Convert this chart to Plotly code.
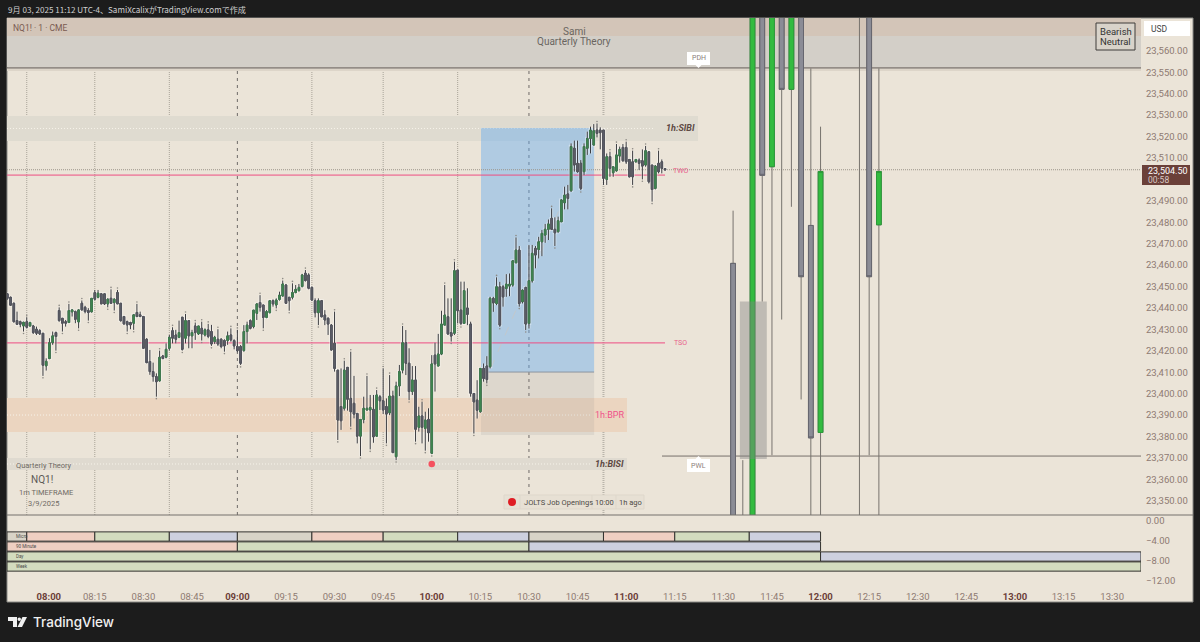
import plotly.graph_objects as go

# ---------- 1-minute candles, 07:49 - 11:12 ----------
first_minute = 469
opens = [23446.6,23445,23442.2,23434.1,23433.6,23431.6,23433.6,23431.6,23431.6,23430.1,23429.4,23428.2,23413,23416.4,23423.8,23428.5,23438.8,23435.2,23433.6,23433.2,23438.2,23438.3,23433.5,23442.2,23440.3,23438.8,23438.2,23447.2,23445,23446.6,23446.6,23441.9,23444.5,23442.5,23447.2,23442.2,23436,23433.6,23433.2,23432.9,23437.9,23436.8,23436,23425.4,23415,23410.3,23408,23406,23417.6,23417,23421.2,23429.4,23427.4,23426.3,23435.7,23425.9,23434.1,23427,23431.6,23427.9,23430.5,23427.4,23429.8,23429,23424.3,23425.4,23425.4,23424.8,23424.8,23427.4,23424.8,23422,
23422,23420.1,23429,23434.1,23431.3,23437.5,23442.5,23441.4,23435.6,23437.8,23443.4,23441.4,23444,23445.6,23450.7,23445,23445,23447.2,23448.1,23450,23456.2,23455.4,23449.6,23443.4,23437.8,23443.4,23436.7,23435.2,23432,23423.5,23411,23394,23393.2,23412.3,23397.8,23395.5,23390.8,23380.2,23388,23392.4,23392.4,23392.7,23380.2,23398.6,23396.7,23394,23391.1,23398.9,23370.6,23403.6,23411,23423.8,23414.2,23401,23406.4,23384.3,23389.6,23383.8,23388,23372.2,23418,23412.9,23418.5,23432,23435.9,23428.5,23428.2,23457.7,23439,23432.8,23440,23432.5,
23400.1,23397,23391.6,23411.8,23412.9,23412.6,23444.5,23442.1,23449.9,23449.9,23449.1,23450.2,23450.7,23461.1,23467,23442.9,23449.6,23432.8,23452.7,23467.8,23467.3,23470.9,23474,23476.7,23481.8,23476.7,23475.6,23480.2,23489.1,23493.2,23494.7,23514.5,23507.5,23507.5,23503.6,23514.5,23519.1,23516,23523,23523,23523,23500,23510.6,23503.1,23504,23510.9,23514.9,23514.9,23509.3,23508.2,23508.2,23509,23508.7,23506.7,23512.9,23506.7,23495.8,23507.5,23508.2,23505]
highs = [23446.9,23445.3,23442.5,23438.3,23434.1,23433.6,23435.7,23433.6,23432.1,23431.3,23430.1,23428.2,23416.5,23425.9,23429,23429,23440.3,23435.2,23434.4,23441.9,23439.4,23438.8,23439.4,23443.5,23441,23439.9,23444.5,23448.4,23448.4,23446.9,23446.6,23444.5,23448.7,23444.5,23448.4,23442.2,23436.3,23434.1,23433.6,23437.2,23441.9,23438.3,23436.3,23425.9,23420.4,23414.5,23409.5,23420.1,23418.1,23423.5,23427.4,23431,23429.8,23434.1,23435.7,23437.2,23434.1,23429.8,23433.2,23431.6,23433.6,23430.5,23432.6,23432.1,23427,23430.1,23425.9,23425.4,23429,23430.5,23425.4,23429.8,
23422.7,23432,23433.6,23434.7,23439,23442.2,23446,23441.4,23439,23443.7,23444,23444.5,23447.6,23452.8,23451.2,23445,23451.5,23450.7,23451.2,23455.9,23457.7,23456.2,23450,23444.5,23444.5,23443.7,23439,23435.6,23432.5,23438.3,23411,23411.8,23415.4,23412.3,23419.6,23408.3,23390.8,23388,23398.6,23408.3,23399.4,23399.4,23401.7,23399.4,23411.8,23397.8,23408.7,23401.4,23405.6,23413.4,23431.6,23429.7,23421.2,23412.9,23412.9,23393.9,23396.3,23391.6,23393.2,23418,23423.8,23427.9,23438.7,23450.7,23444.5,23444.5,23461.6,23457.7,23452.3,23452.3,23449.2,23433.6,
23400.1,23406.3,23411.8,23414.1,23417.5,23445.2,23445.2,23454.3,23452.2,23450.7,23455.8,23456.1,23462.3,23472.9,23468.9,23448.7,23449.9,23469.4,23469.4,23468.9,23473.2,23476.4,23479.2,23481.3,23486.5,23482.3,23482.6,23490.7,23496.6,23497.4,23516.8,23518.1,23518.1,23509,23516.8,23522.3,23524.6,23525.8,23526.1,23524.3,23523,23512.1,23512.9,23505.9,23516.5,23515.3,23516.5,23517.6,23509.3,23513.4,23509.3,23509.8,23514,23515.6,23512.9,23506.7,23506.7,23513.4,23509.3,23505.2]
lows = [23443.8,23441,23433.2,23432.1,23431,23429,23430.5,23431.3,23427.9,23427.4,23427.4,23408.3,23410.8,23416.1,23422.8,23420.1,23433.6,23429,23431.3,23433.2,23436,23432.9,23430.5,23438.8,23437.5,23434.1,23437.9,23443.5,23444.5,23441.9,23441.4,23440.3,23441.9,23438.8,23441.9,23433.6,23432.1,23429,23430.1,23429.8,23435.7,23435.7,23421.2,23414.2,23408.8,23405.6,23398.6,23405.6,23416.1,23416.5,23420.1,23423.5,23423.5,23425.9,23420.1,23423.5,23421.2,23421.2,23425.1,23427.4,23424.8,23426.7,23425.9,23422.3,23423.2,23422.3,23421.2,23419.6,23422.8,23424.3,23420.7,23419.2,
23413.4,23419.6,23423.5,23430,23430.5,23434.4,23438.3,23430.5,23435.2,23437.5,23440.6,23439.8,23443.4,23445.3,23441.9,23438.7,23444,23446.8,23447.6,23449.6,23452.3,23448.7,23443.4,23435.6,23432,23435.6,23432,23427.4,23420.1,23410.3,23378.4,23383.1,23392.1,23392.1,23384.6,23388.5,23376.8,23370.9,23386.2,23392.1,23374,23377.1,23379.9,23392.4,23390.5,23376.8,23390,23372.5,23369,23398.9,23409.5,23408.7,23397,23399.4,23377.6,23382.3,23376.8,23373.4,23377.6,23371.8,23401,23412.9,23418,23432,23427.4,23424.3,23427.4,23432.8,23432,23432.8,23432,23398.6,
23381.4,23388.4,23391.1,23405.6,23404.8,23411.8,23438.2,23441.3,23431.2,23440.6,23445.2,23445.5,23449.9,23460.8,23440.6,23442.1,23429.7,23430.4,23451.8,23458.5,23463.1,23464.2,23470.4,23471.7,23476.4,23468.9,23475.1,23480.2,23486,23486,23494.2,23503.6,23503.1,23495,23502,23511.4,23512.1,23516,23519.6,23514,23497.4,23497.4,23501.2,23501.2,23503.6,23507.8,23508.2,23507.2,23500.9,23497.4,23507.8,23504.4,23500,23505.9,23498.1,23489.6,23495.3,23502.8,23502.8,23504]
closes = [23444.5,23441.3,23433.6,23432.4,23432.4,23433.3,23431,23433.2,23428.5,23428.2,23427.9,23413.3,23415.1,23423.8,23427,23426.7,23434.1,23432.9,23432.9,23438.8,23439.1,23434.7,23439.1,23439.1,23438.3,23437.9,23444.5,23444.1,23446.9,23441.9,23441.9,23444.1,23442.2,23444.1,23441.9,23434.1,23432.6,23432.1,23432.1,23436.8,23436,23436,23421.2,23414.5,23410.3,23408,23405.6,23417,23416.4,23420.7,23426.3,23425.9,23425.4,23428.5,23420.7,23434.1,23427,23428.5,23428.5,23431.6,23427.9,23429.8,23426.7,23423.2,23426.3,23423.2,23422,23422.3,23427,23425.1,23422.3,23420.1,
23414.2,23429,23432,23430.5,23439,23441.9,23440.3,23435.6,23438.3,23443.4,23441.9,23443.7,23446,23451.2,23442.2,23443.4,23447.2,23448.7,23449.6,23455.4,23452.8,23449.2,23443.7,23437.8,23443.4,23435.9,23434.4,23432.5,23420.4,23411.8,23387.7,23387.4,23411,23397.4,23391.6,23390.5,23380.2,23388,23393.2,23393.2,23393.6,23379.9,23399.4,23396.7,23392.4,23390.5,23398.9,23372.5,23403.6,23410.3,23423.8,23414.2,23401,23406.4,23383.4,23389.6,23384.3,23387.7,23381.8,23413.9,23413.9,23418.5,23432.5,23436.7,23427.9,23426.9,23457.4,23438.7,23432.8,23448.1,23437,23400.2,
23396.2,23392.3,23411.8,23407.1,23406.6,23444.5,23442.4,23449.9,23432,23445.2,23451.1,23451.1,23462,23467,23442.1,23448.3,23432.5,23452.7,23465.5,23464.7,23470.9,23474.8,23476.7,23479.2,23476.7,23475.1,23480.7,23490.4,23492.7,23491.1,23515.3,23506.7,23503.6,23495.8,23515.3,23519.1,23523,23522.7,23521.5,23521.8,23500.5,23510.6,23505.1,23505.9,23511.4,23514,23508.7,23508.2,23501.2,23501.2,23509.3,23507.5,23506.2,23513.4,23498.9,23495.3,23506.2,23503.6,23505.1,23504.5]

# ---------- 3-minute overlay candles ----------
htf_minutes = [693,696,699,702,705,708,711,714,717,720,732,735,738]
htf_opens   = [23460.8,23335,23330,23600,23505.9,23600,23542,23600,23478.5,23381.9,23600,23600,23478.8]
htf_highs   = [23485.4,23369,23610,23610,23610,23610,23610,23610,23551.8,23524.6,23610,23610,23551.8]
htf_lows    = [23320,23320,23320,23443,23371.3,23434.6,23487.2,23397.3,23320,23320,23320,23371.3,23320]
htf_closes  = [23330,23330,23600,23501.9,23600,23542,23600,23454.6,23379.4,23503.7,23600,23454.6,23503.7]

# ---------- levels and zones (price) ----------
price_ticks = list(range(23350, 23570, 10))
last_price = 23504.5
pdh, pwl, tso, two = 23552.0, 23370.9, 23423.7, 23502.0
band_top = (23566.9, 23590)
band_pdh = (23552.4, 23566.9)
band_pdh_low = (23550.6, 23552.0)
sibi = (23517.9, 23529.6)
bpr = (23382.1, 23398.0)
bisi = (23364.4, 23370.0)
blue_box = (615.2, 650.1, 23410.1, 23524.0)
loss_box = (615.2, 650.1, 23380.7, 23410.1)
htf_box = (695.1, 703.4, 23369.5, 23443.0)
signal_time, signal_price = 600, 23367.2
diag = (618.2, 23411.8, 650.0, 23523.0)

# ---------- sessions ----------
dotted_times = [475, 496, 519, 563, 585, 608]
dashed_times = [540, 630]
wide_dotted_times = [653]
micro_edges = [468.9,475,496,519,540,563,585,608,630,653,675,698,720]
micro_cols = ["g","p","v","b","g","p","v","b","g","p","v","b"]
m90_edges = [468.9,540,630,720]
m90_cols = ["p","v","b"]
day_edges = [468.9,720,818.9]
day_cols = ["v","b"]
week_edges = [468.9,818.9]
week_cols = ["v"]
row_names = ["Micro","90 Minute","Day","Week"]
row_centers = [-3.1,-5.1,-7.1,-9.1]
palette = {"g":"#d8d3c7","p":"#efcfc2","v":"#d3dcbf","b":"#cdd0df"}

# ---------- time axis ----------
time_pos = [481.8,496,511,526,540,555,570,585,600,615,630,645,660,675,690,705,720,735,750,765,780,795,810]
time_txt = ["08:00","08:15","08:30","08:45","09:00","09:15","09:30","09:45","10:00","10:15","10:30","10:45","11:00","11:15","11:30","11:45","12:00","12:15","12:30","12:45","13:00","13:15","13:30"]

L, R, T, B, SPLIT = 7, 1141, 18, 583, 515
XMIN, XMAX = 468.9, 818.9
YTOP, YBOT = 23575.3, 23343.4
INK = "#8e7a72"
DARK = "#6b4039"
TXT = "Roboto"

def px(x): return (x - L) / (R - L)
def py(y): return (B - y) / (B - T)
def tof(x): return XMIN + (x - L) / (R - L) * (XMAX - XMIN)

minutes = list(range(first_minute, first_minute + len(opens)))
shapes, ann = [], []

def paper_rect(x0, y0, x1, y1, fill, line=None, lw=1, layer="below"):
    shapes.append(dict(type="rect", xref="paper", yref="paper", x0=px(x0), x1=px(x1), y0=py(y1), y1=py(y0),
                       fillcolor=fill, line=dict(color=line or "rgba(0,0,0,0)", width=lw if line else 0), layer=layer))

def zone(t0, t1, p0, p1, fill, layer="below"):
    shapes.append(dict(type="rect", xref="x", yref="y", x0=t0, x1=t1, y0=p0, y1=p1, fillcolor=fill, line_width=0, layer=layer))

def hline(p, t0, t1, color, width=1, dash="solid"):
    shapes.append(dict(type="line", xref="x", yref="y", x0=t0, x1=t1, y0=p, y1=p, line=dict(color=color, width=width, dash=dash), layer="below"))

def label(x, y, text, size=9, color="#555", anchor="center", font=TXT, bg=None, weight=None):
    f = dict(size=size, color=color, family=font)
    if weight:
        f["weight"] = weight
    ann.append(dict(xref="paper", yref="paper", x=px(x), y=py(y), text=text, showarrow=False, xanchor=anchor, yanchor="middle",
                    font=f, bgcolor=bg, borderpad=0))

# page chrome
paper_rect(7, 18, 1193, 602, "#ebe4d8", "#8a8a86", 1)

# bands
zone(XMIN, XMAX, *band_top, "#d3c5b8")
zone(XMIN, XMAX, *band_pdh, "#d3cfc8")
zone(XMIN, XMAX, *band_pdh_low, "#ddd5c9")
zone(XMIN, tof(698), *sibi, "#dfdbd0")
zone(XMIN, tof(627), *bpr, "#ebd5c0")
zone(XMIN, tof(627), *bisi, "#dfdad0")
hline(sum(sibi)/2, XMIN, tof(655), "#f7f3ea", 1, "1px,2px")
hline(sum(bpr)/2, XMIN, tof(590), "#f7f3ea", 1, "1px,2px")
hline(sum(bisi)/2, XMIN, tof(590), "#f7f3ea", 1, "1px,2px")
zone(blue_box[0], blue_box[1], blue_box[2], blue_box[3], "rgba(95,170,240,0.42)")
zone(loss_box[0], loss_box[1], loss_box[2], loss_box[3], "rgba(130,130,130,0.13)")
shapes.append(dict(type="line", xref="x", yref="y", x0=blue_box[0], x1=blue_box[1], y0=blue_box[2], y1=blue_box[2],
                   line=dict(color="#8c96a0", width=1), layer="below"))
shapes.append(dict(type="line", xref="x", yref="y", x0=diag[0], y0=diag[1], x1=diag[2], y1=diag[3],
                   line=dict(color="#c2c8cc", width=1, dash="dash"), layer="below"))

# session lines
for t in dotted_times:
    shapes.append(dict(type="line", xref="x", yref="paper", x0=t, x1=t, y0=py(SPLIT), y1=1,
                       line=dict(color="#a8a398", width=1, dash="1px,1px"), layer="below"))
for t in wide_dotted_times:
    shapes.append(dict(type="line", xref="x", yref="paper", x0=t, x1=t, y0=py(SPLIT), y1=1,
                       line=dict(color="#b9b4aa", width=2, dash="1px,1px"), layer="below"))
for t in dashed_times:
    shapes.append(dict(type="line", xref="x", yref="paper", x0=t, x1=t, y0=py(SPLIT), y1=1,
                       line=dict(color="#6e6a68", width=1, dash="3px,4px"), layer="below"))

# levels
hline(pdh, XMIN, XMAX, "#77706c", 1.2)
hline(pwl, tof(662), XMAX, "#77706c", 1)
hline(tso, XMIN, tof(665), "#ee4d82", 1)
hline(two, XMIN, tof(665), "#ee4d82", 1)
hline(last_price, XMIN, XMAX, "#9c948a", 1, "1px,1px")

# top-of-box overlay
zone(htf_box[0], htf_box[1], htf_box[2], htf_box[3], "rgba(130,130,130,0.42)", layer="above")

# pane separator
shapes.append(dict(type="line", xref="paper", yref="paper", x0=px(7), x1=px(1193), y0=py(SPLIT), y1=py(SPLIT),
                   line=dict(color="#75716c", width=1), layer="above"))

def candles(x, o, h, l, c, xaxis, up_line, up_fill, down_line, down_fill, width=1):
    return go.Candlestick(x=x, open=o, high=h, low=l, close=c, xaxis=xaxis, yaxis="y",
        increasing=dict(line=dict(color=up_line, width=width), fillcolor=up_fill),
        decreasing=dict(line=dict(color=down_line, width=width), fillcolor=down_fill),
        whiskerwidth=0, hoverinfo="skip", showlegend=False)

def bodies(o, c):
    return [max(a, b) for a, b in zip(o, c)], [min(a, b) for a, b in zip(o, c)]

traces = []
# pale halo, dark wicks, then coloured bodies of the 1-minute candles
halo = "rgba(255,255,255,0.4)"
traces.append(candles(minutes, opens, highs, lows, closes, "x", halo, halo, halo, halo, 3))
traces.append(candles(minutes, opens, highs, lows, closes, "x", "#3a3a3e", "#3a3a3e", "#3a3a3e", "#3a3a3e"))
tops, bots = bodies(opens, closes)
traces.append(candles(minutes, opens, tops, bots, closes, "x", "#3f7d50", "#3f8a50", "#55565f", "#5f616c"))

# swing marks
hx = [m for i, m in enumerate(minutes) if 0 < i < len(highs)-1 and highs[i] > highs[i-1] and highs[i] > highs[i+1]]
hy = [highs[m-first_minute] + 0.9 for m in hx]
lx = [m for i, m in enumerate(minutes) if 0 < i < len(lows)-1 and lows[i] < lows[i-1] and lows[i] < lows[i+1]]
ly = [lows[m-first_minute] - 0.9 for m in lx]
traces.append(go.Scatter(x=hx+lx, y=hy+ly, mode="markers", marker=dict(size=1.6, color="#8d8a85"), hoverinfo="skip", showlegend=False))

# overlay candles, on a twin x axis so their width follows the 3-minute spacing
wick = "#77736e"
traces.append(candles(htf_minutes, htf_opens, htf_highs, htf_lows, htf_closes, "x3", wick, wick, wick, wick))
htops, hbots = bodies(htf_opens, htf_closes)
traces.append(candles(htf_minutes, htf_opens, htops, hbots, htf_closes, "x3", "#2a9a39", "#33bb40", "#66666f", "#8b8c96"))

# signal dot
traces.append(go.Scatter(x=[signal_time], y=[signal_price], mode="markers", marker=dict(size=6.5, color="#f5515f"), hoverinfo="skip", showlegend=False))

# session rows
for edges, cols, c in zip([micro_edges, m90_edges, day_edges, week_edges],
                          [micro_cols, m90_cols, day_cols, week_cols], row_centers):
    traces.append(go.Bar(orientation="h", y=[c]*len(cols), base=edges[:-1], x=[b-a for a, b in zip(edges[:-1], edges[1:])],
                         width=1.85, marker=dict(color=[palette[k] for k in cols], line=dict(color="#33322f", width=1)),
                         xaxis="x", yaxis="y2", hoverinfo="skip", showlegend=False))
for name, c in zip(row_names, row_centers):
    ann.append(dict(xref="x", yref="y2", x=tof(14), y=c, text=name, showarrow=False, xanchor="left", font=dict(size=4.5, color="#4b4b4b", family=TXT)))

# texts
label(7, 10, "9月 03, 2025 11:12 UTC-4、SamiXcalixがTradingView.comで作成", 8.1, "#d0d0d0", "left", "Noto Sans CJK JP")
label(12, 28, "NQ1! · 1 · CME", 8.5, "#7a5a50", "left")
label(574, 31.5, "Sami", 10, "#6a6560")
label(574, 41.5, "Quarterly Theory", 10, "#6a6560")
label(15, 465, "Quarterly Theory", 7.5, "#6f6a64", "left")
label(42, 479, "NQ1!", 10, "#5d5a56")
label(46, 492, "1m TIMEFRAME", 7.5, "#6f6a64")
label(43, 503, "3/9/2025", 7.5, "#6f6a64")
label(696, 128.5, "<b><i>1h:SIBI</i></b>", 9, "#5e4a44", "right")
label(625, 415, "1h:BPR", 9, "#f0508a", "right")
label(625, 464, "<b><i>1h:BISI</i></b>", 9, "#5e4a44", "right")
label(680, 171, "TWO", 7, "#e8608a")
label(680, 343, "TSO", 7, "#e8608a")

# price-level tags
for x0, y0, y1, tip_y, base_y, name in [(687, 52, 65, 68, 65, "PDH"), (687, 459, 472, 456, 459, "PWL")]:
    paper_rect(x0, y0, x0+23, y1, "#ffffff", layer="above")
    shapes.append(dict(type="path", xref="paper", yref="paper", layer="above", fillcolor="#ffffff", line_width=0,
                       path=f"M {px(x0+8.5)} {py(base_y)} L {px(x0+14.5)} {py(base_y)} L {px(x0+11.5)} {py(tip_y)} Z"))
    label(x0+11.5, (y0+y1)/2, name, 7, "#8d807a")

# event chip
paper_rect(504, 495, 644, 509, "#e7e0d4", "#ded7cb", 1, layer="above")
for x in (520, 592, 616):
    shapes.append(dict(type="line", xref="paper", yref="paper", x0=px(x), x1=px(x), y0=py(495), y1=py(509), line=dict(color="#ded7cb", width=1), layer="above"))
shapes.append(dict(type="circle", xref="paper", yref="paper", x0=px(508), x1=px(516), y0=py(506), y1=py(498), fillcolor="#df1d24", line_width=0, layer="above"))
label(523, 502, "JOLTS Job Openings", 7.5, "#4d4a46", "left")
label(604.5, 502, "10:00", 7.5, "#4d4a46")
label(630.5, 502, "1h ago", 7.5, "#4d4a46")

# status box
paper_rect(1096, 23, 1135, 50, "#d8d3ca", "#3e3c3a", 1, layer="above")
label(1115.5, 32, "Bearish", 9.5, "#333")
label(1115.5, 41, "Neutral", 9.5, "#333")

# axis tags
paper_rect(1144, 21, 1190, 36, "#ffffff", layer="above")
label(1150, 28.5, "USD", 8.5, "#444", "left")
paper_rect(1142, 165, 1190, 185, DARK, layer="above")
label(1147, 170.5, f"{last_price:,.2f}", 9, "#ffffff", "left")
label(1147, 180, "00:58", 8.5, "#d9c9c4", "left")

# logo
shapes.append(dict(type="path", xref="paper", yref="paper", layer="above", fillcolor="#f0f0f0", line_width=0,
                   path=f"M {px(8)} {py(617)} L {px(17)} {py(617)} L {px(17)} {py(627)} L {px(13)} {py(627)} L {px(13)} {py(621)} L {px(8)} {py(621)} Z"))
shapes.append(dict(type="circle", xref="paper", yref="paper", layer="above", fillcolor="#f0f0f0", line_width=0,
                   x0=px(17.5), x1=px(21), y0=py(621), y1=py(617.5)))
shapes.append(dict(type="path", xref="paper", yref="paper", layer="above", fillcolor="#f0f0f0", line_width=0,
                   path=f"M {px(22.5)} {py(617)} L {px(27)} {py(617)} L {px(22)} {py(627)} L {px(17.5)} {py(627)} Z"))
label(32, 622, "TradingView", 13.5, "#f0f0f0", "left", "Inter", weight=500)

tick_text = [f'<span style="color:{DARK}"><b>{s}</b></span>' if s.endswith(":00") else s for s in time_txt]

fig = go.Figure(traces)
fig.update_layout(
    width=1200, height=642, paper_bgcolor="#1c1c1c", plot_bgcolor="rgba(0,0,0,0)",
    margin=dict(l=L, r=1200-R, t=T, b=642-B, pad=0), showlegend=False, barmode="overlay", boxmode="overlay",
    shapes=shapes, annotations=ann, hovermode=False, dragmode=False,
    xaxis=dict(domain=[0, 1], range=[XMIN, XMAX], anchor="y2", tickmode="array", tickvals=time_pos, ticktext=tick_text,
               showgrid=False, zeroline=False, showline=False, ticks="", ticklabelstandoff=6,
               rangeslider=dict(visible=False), tickfont=dict(size=9.5, color=INK, family=TXT)),
    xaxis3=dict(range=[XMIN, XMAX], overlaying="x", anchor="y", visible=False, rangeslider=dict(visible=False)),
    yaxis=dict(domain=[py(SPLIT), 1], range=[YBOT, YTOP], side="right", anchor="x", tickmode="array", tickvals=price_ticks,
               tickformat=",.2f", showgrid=False, zeroline=False, showline=False, ticks="", ticklabelstandoff=4,
               tickfont=dict(size=9.5, color=INK, family=TXT)),
    yaxis2=dict(domain=[0, py(SPLIT)], range=[-12.4, 1.2], side="right", anchor="x", tickmode="array", tickvals=[0, -4, -8, -12],
                tickformat=".2f", showgrid=False, zeroline=False, showline=False, ticks="", ticklabelstandoff=4,
                tickfont=dict(size=9.5, color=INK, family=TXT)),
    font=dict(family=TXT),
)

fig.write_html("out.html", config={"displayModeBar": False, "staticPlot": True},
               post_script="document.body.style.margin='0';document.body.style.background='#1c1c1c';document.body.style.overflow='hidden';")
